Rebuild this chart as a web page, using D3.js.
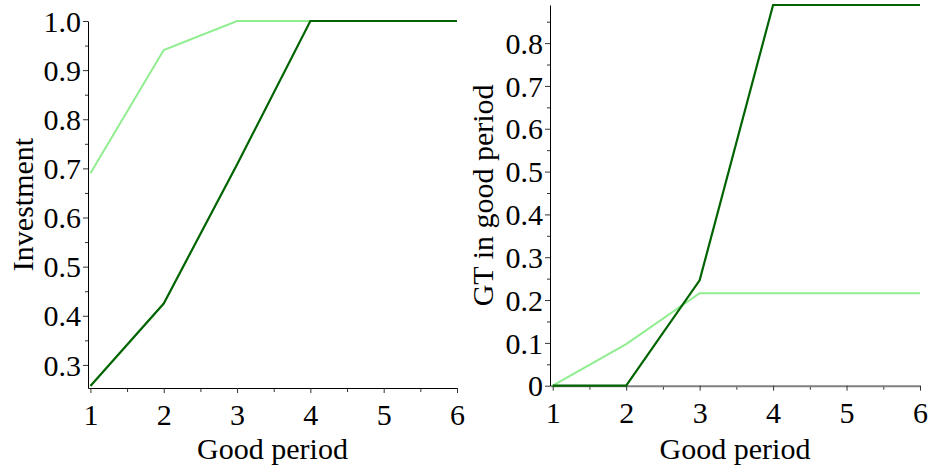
<!DOCTYPE html>
<html>
<head>
<meta charset="utf-8">
<script src="https://cdn.jsdelivr.net/npm/d3@7"></script>
<style>
body{margin:0;background:#fff;}
text{font-family:"Liberation Serif","Times New Roman",serif;}
</style>
</head>
<body>
<div id="chart"></div>
<script>
/* data */
const periods = [1,2,3,4,5,6];
const invLight = [0.69,0.941,1.0,1.0,1.0,1.0];
const invDark = [0.257,0.425,0.708,1.0,1.0,1.0];
const gtLight = [0,0.097,0.216,0.216,0.216,0.216];
const gtDark = [0,0,0.246,0.889,0.889,0.889];
const xTicks = [1,2,3,4,5,6];
const xMinor = [1.5,2.5,3.5,4.5,5.5];
const invTicks = [0.3,0.4,0.5,0.6,0.7,0.8,0.9,1.0];
const invMinor = [0.35,0.45,0.55,0.65,0.75,0.85,0.95];
const gtTicks = [0,0.1,0.2,0.3,0.4,0.5,0.6,0.7,0.8];
const gtMinor = [0.05,0.15,0.25,0.35,0.45,0.55,0.65,0.75,0.85];

var W = 932, H = 474;
var svg = d3.select("#chart").append("svg")
.attr("width",W).attr("height",H);

function fmt(d){ return d===0 ? "0" : d.toFixed(1); }

function panel(opt){
    var x = d3.scaleLinear().domain(opt.xdom).range(opt.xr);
    var y = d3.scaleLinear().domain(opt.ydom).range(opt.yr);
    var g = svg.append("g");

    // minor ticks
    g.append("g").attr("transform",`translate(0,${opt.yr[0]})`)
    .call(d3.axisBottom(x).tickValues(xMinor).tickSize(4).tickFormat(""))
    .call(a=>a.select(".domain").remove())
    .selectAll("line").attr("stroke","#333");
    g.append("g").attr("transform",`translate(${opt.xr[0]},0)`)
    .call(d3.axisLeft(y).tickValues(opt.yMinor).tickSize(3).tickFormat(""))
    .call(a=>a.select(".domain").remove())
    .selectAll("line").attr("stroke","#333");

    // x axis
    var gx = g.append("g").attr("transform",`translate(0,${opt.yr[0]})`)
    .call(d3.axisBottom(x).tickValues(xTicks).tickSize(5).tickSizeOuter(0).tickPadding(11).tickFormat(d3.format("d")));
    gx.select(".domain").attr("stroke",opt.xAxisColor).attr("stroke-width",opt.xAxisWidth);
    gx.selectAll("line").attr("stroke","#333");
    gx.selectAll("text").attr("font-size",30).attr("fill","#000")
    .style("font-family","Liberation Serif");

    // y axis
    var gy = g.append("g").attr("transform",`translate(${opt.xr[0]},0)`)
    .call(d3.axisLeft(y).tickValues(opt.yTicks).tickSize(5).tickSizeOuter(0).tickPadding(2).tickFormat(fmt));
    gy.select(".domain").attr("stroke","#000");
    gy.selectAll("line").attr("stroke","#333");
    gy.selectAll("text").attr("font-size",30).attr("fill","#000").attr("dy","0.34em")
    .style("font-family","Liberation Serif");

    // lines
    var line = d3.line().x((d,i)=>x(periods[i])).y(d=>y(d));
    g.append("path").datum(opt.light).attr("d",line)
    .attr("fill","none").attr("stroke","#90ee90").attr("stroke-width",2);
    g.append("path").datum(opt.dark).attr("d",line)
    .attr("fill","none").attr("stroke","#006400").attr("stroke-width",2.2);

    // labels
    g.append("text").text("Good period")
    .attr("x",(opt.xr[0]+opt.xr[1])/2).attr("y",459)
    .attr("text-anchor","middle").attr("font-size",30);
    g.append("text").text(opt.ylabel)
    .attr("transform",`translate(${opt.ylx},${(opt.yr[0]+opt.yr[1])/2})rotate(-90)`)
    .attr("text-anchor","middle").attr("font-size",30);
}

panel({xdom:[0.967,6],xr:[88,457],ydom:[0.253,1.0],yr:[388,21],
    yTicks:invTicks,yMinor:invMinor,light:invLight,dark:invDark,
    ylabel:"Investment",ylx:33,xAxisColor:"#000",xAxisWidth:1});
panel({xdom:[0.963,6],xr:[550,920],ydom:[0,0.889],yr:[385.7,5],
    yTicks:gtTicks,yMinor:gtMinor,light:gtLight,dark:gtDark,
    ylabel:"GT in good period",ylx:493,xAxisColor:"#808080",xAxisWidth:2});
</script>
</body>
</html>
